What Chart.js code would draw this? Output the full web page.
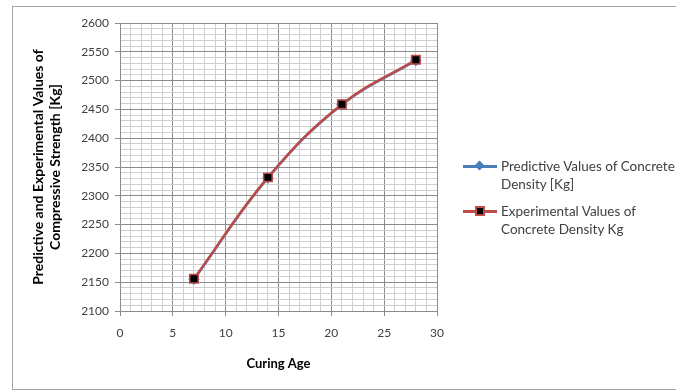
<!DOCTYPE html>
<html>
<head>
<meta charset="utf-8">
<script src="https://cdn.jsdelivr.net/npm/chart.js@4"></script>
<style>
  body { margin: 0; background: #fff; }
  #wrap { position: relative; width: 676px; height: 392px; overflow: hidden; }
  #frame { position: absolute; left: 12px; top: 6px; width: 690px; height: 382px; border: 1.5px solid #a6a6a6; }
  canvas { position: absolute; left: 0; top: 0; }
  #legend { position: absolute; left: 463px; top: 157px; font: 13.5px Lato, sans-serif; color: #404040; }
  .item { position: relative; padding-left: 38px; line-height: 18px; margin-bottom: 9px; }
  .line { position: absolute; left: 0; top: 8px; width: 34px; height: 3px; }
  .mark { position: absolute; }
</style>
</head>
<body>
<div id="wrap">
  <div id="frame"></div>
  <canvas id="chart" width="676" height="392"></canvas>
  <div id="legend">
    <div class="item">
      <span class="line" style="background:#4a7ebb"></span>
      <span class="mark" style="left:13px;top:5px;width:7px;height:7px;background:#4a7ebb;transform:rotate(45deg)"></span>
      Predictive Values of Concrete<br>Density [Kg]
    </div>
    <div class="item">
      <span class="line" style="background:#be4b48"></span>
      <span class="mark" style="left:12px;top:4px;width:6px;height:6px;background:#000;border:2px solid #be4b48"></span>
      Experimental Values of<br>Concrete Density Kg
    </div>
  </div>
</div>
<script>
const curingAge = [7, 14, 21, 28];
const predictive = [2155, 2331, 2458, 2535];
const experimental = [2156, 2332, 2459, 2536];

const minorGrid = '#cfcfcf';
const majorGrid = '#8c8c8c';

function points(ys) {
    return curingAge.map((x, i) => ({ x: x, y: ys[i] }));
}

const data = {
    datasets: [{
        label: 'Predictive Values of Concrete Density [Kg]',
        data: points(predictive),
        order: 1,
        borderColor: '#4a7ebb',
        backgroundColor: '#4a7ebb',
        borderWidth: 2.5,
        pointStyle: 'rectRot',
        pointRadius: 4,
        tension: 0.4,
        showLine: true
    }, {
        label: 'Experimental Values of Concrete Density Kg',
        data: points(experimental),
        order: 0,
        borderColor: '#be4b48',
        backgroundColor: '#000',
        pointBorderColor: '#be4b48',
        pointBorderWidth: 1.5,
        borderWidth: 2.5,
        pointStyle: 'rect',
        pointRadius: 6,
        tension: 0.4,
        showLine: true
    }]
};

const config = {
    type: 'scatter',
    data: data,
    options: {
        responsive: false,
        animation: false,
        layout: { padding: { left: 25, top: 23, right: 239, bottom: 16 } },
        plugins: { legend: { display: false }, tooltip: { enabled: false } },
        scales: {
            x: {
                min: 0, max: 30,
                afterFit: (s) => { s.height = 65; },
                ticks: {
                    stepSize: 1, autoSkip: false, maxRotation: 0,
                    color: '#404040', font: { family: 'Lato', size: 12 }, padding: 10,
                    callback: (v) => v % 5 === 0 ? v : ''
                },
                grid: {
                    color: (c) => c.tick.value % 5 === 0 ? majorGrid : minorGrid,
                    tickColor: (c) => c.tick.value % 5 === 0 ? majorGrid : 'rgba(0,0,0,0)',
                    tickLength: 5
                },
                border: { color: majorGrid },
                title: {
                    display: true, text: 'Curing Age', color: '#000',
                    font: { family: 'Lato', size: 13, weight: 'bold' }, padding: { top: 10 }
                }
            },
            y: {
                min: 2100, max: 2600,
                afterFit: (s) => { s.width = 95; },
                ticks: {
                    stepSize: 10, autoSkip: false,
                    color: '#404040', font: { family: 'Lato', size: 12 }, padding: 6,
                    callback: (v) => v % 50 === 0 ? v : ''
                },
                grid: {
                    color: (c) => c.tick.value % 50 === 0 ? majorGrid : minorGrid,
                    tickColor: (c) => c.tick.value % 50 === 0 ? majorGrid : 'rgba(0,0,0,0)',
                    tickLength: 5
                },
                border: { color: majorGrid },
                title: {
                    display: true,
                    text: ['Predictive and Experimental Values of', 'Compressive Strength [Kg]'],
                    color: '#000', font: { family: 'Lato', size: 14, weight: 'bold' },
                    padding: { top: 5, bottom: 0 }
                }
            }
        }
    }
};

new Chart(document.getElementById('chart'), config);
</script>
</body>
</html>
